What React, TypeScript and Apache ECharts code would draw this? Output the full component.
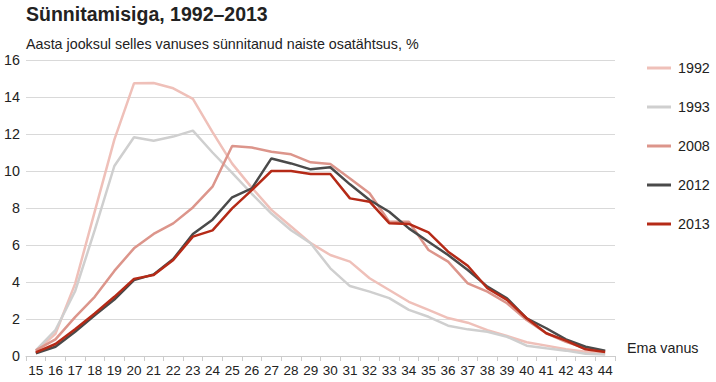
import React, { useEffect, useRef } from "react";
import * as echarts from "echarts";

const ages = ["15","16","17","18","19","20","21","22","23","24","25","26","27","28","29","30","31","32","33","34","35","36","37","38","39","40","41","42","43","44"];
const years = ["1992", "1993", "2008", "2012", "2013"];
const s1992 = [0.25,1.2,3.9,7.8,11.7,14.74,14.76,14.47,13.9,12.1,10.4,9.1,7.9,7.0,6.1,5.46,5.1,4.2,3.57,2.93,2.49,2.05,1.8,1.4,1.08,0.74,0.56,0.36,0.23,0.13];
const s1993 = [0.3,1.4,3.5,6.8,10.27,11.82,11.64,11.86,12.18,11.0,9.9,8.77,7.7,6.8,6.09,4.74,3.78,3.48,3.13,2.49,2.12,1.64,1.44,1.31,1.04,0.56,0.42,0.29,0.12,0.08];
const s2008 = [0.3,0.9,2.1,3.2,4.6,5.82,6.6,7.17,8.03,9.15,11.35,11.27,11.04,10.9,10.47,10.38,9.6,8.8,7.26,7.26,5.73,5.1,3.93,3.48,2.85,1.95,1.23,0.77,0.42,0.25];
const s2012 = [0.15,0.5,1.31,2.2,3.05,4.1,4.41,5.24,6.6,7.37,8.58,9.06,10.68,10.41,10.09,10.2,9.28,8.43,7.8,6.9,6.18,5.46,4.65,3.75,3.12,2.04,1.5,0.9,0.5,0.29];
const s2013 = [0.2,0.65,1.45,2.3,3.2,4.17,4.38,5.19,6.45,6.79,7.98,8.97,10.0,10.0,9.84,9.84,8.52,8.34,7.18,7.14,6.68,5.64,4.88,3.66,3.03,2.04,1.23,0.83,0.36,0.22];
const seriesData = [s1992, s1993, s2008, s2012, s2013];
const colors = ["#efc0b9", "#cfcfcf", "#dc958b", "#4a4a4a", "#b52a17"];
const yTicks = [0, 2, 4, 6, 8, 10, 12, 14, 16];

const FONT = "Liberation Sans, Arial, sans-serif";

export default function App() {
  const ref = useRef<HTMLDivElement>(null);
  useEffect(() => {
    document.body.style.margin = "0";
    const chart = echarts.init(ref.current!, null, { renderer: "svg" });
    chart.setOption({
      animation: false,
      textStyle: { fontFamily: FONT },
      grid: { left: 26, right: 101, top: 60, bottom: 26 },
      legend: {
        orient: "vertical",
        left: 642,
        top: 56,
        itemGap: 25,
        itemWidth: 24,
        itemHeight: 3,
        icon: "rect",
        textStyle: { fontSize: 14.3, color: "#222", fontFamily: FONT, padding: [0, 0, 0, 2] },
        data: years,
      },
      graphic: [
        { type: "text", left: 26, top: 4, style: { text: "Sünnitamisiga, 1992–2013", font: "bold 19.5px " + FONT, fill: "#222" } },
        { type: "text", left: 26, top: 37, style: { text: "Aasta jooksul selles vanuses sünnitanud naiste osatähtsus, %", font: "14.3px " + FONT, fill: "#222" } },
        { type: "text", left: 627, top: 341, style: { text: "Ema vanus", font: "14.3px " + FONT, fill: "#222" } },
      ],
      xAxis: {
        type: "category",
        data: ages,
        boundaryGap: true,
        axisLine: { lineStyle: { color: "#cccccc" } },
        axisTick: { show: true, length: 5, lineStyle: { color: "#cccccc" } },
        axisLabel: { fontSize: 13.5, color: "#222", margin: 7, interval: 0, fontFamily: FONT },
      },
      yAxis: {
        type: "value",
        min: yTicks[0],
        max: yTicks[yTicks.length - 1],
        interval: 2,
        axisLine: { show: false },
        axisTick: { show: false },
        splitLine: { lineStyle: { color: "#d9d9d9" } },
        axisLabel: { fontSize: 14.3, color: "#222", margin: 6, fontFamily: FONT },
      },
      series: years.map((y, i) => ({
        name: y,
        type: "line",
        data: seriesData[i],
        symbol: "none",
        lineStyle: { color: colors[i], width: 2.5 },
        itemStyle: { color: colors[i] },
        z: i + 2,
      })),
    });
    return () => chart.dispose();
  }, []);
  return <div ref={ref} style={{ width: 716, height: 382 }} />;
}
